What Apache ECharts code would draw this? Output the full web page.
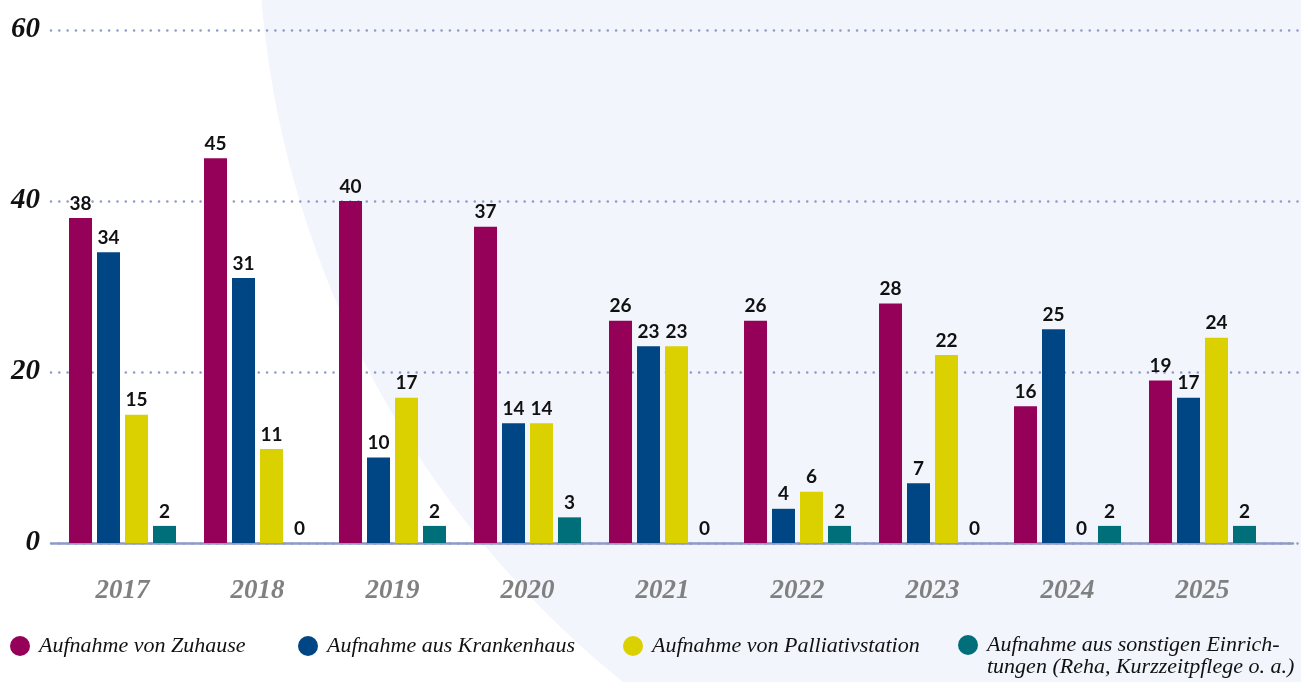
<!DOCTYPE html>
<html>
<head>
<meta charset="utf-8">
<script src="https://cdn.jsdelivr.net/npm/echarts@6/dist/echarts.min.js"></script>
<style>
html,body{margin:0;padding:0;background:#ffffff;}
#chart{width:1301px;height:682px;}
</style>
</head>
<body>
<div id="chart"></div>
<script>
const categories = ['2017','2018','2019','2020','2021','2022','2023','2024','2025'];
const seriesNames = [
  'Aufnahme von Zuhause',
  'Aufnahme aus Krankenhaus',
  'Aufnahme von Palliativstation',
  'Aufnahme aus sonstigen Einrichtungen (Reha, Kurzzeitpflege o. a.)'
];
const zuhause     = [38, 45, 40, 37, 26, 26, 28, 16, 19];
const krankenhaus = [34, 31, 10, 14, 23,  4,  7, 25, 17];
const palliativ   = [15, 11, 17, 14, 23,  6, 22,  0, 24];
const sonstige    = [ 2,  0,  2,  3,  0,  2,  0,  2,  2];
const yTicks = [0, 20, 40, 60];
const colors = ['#950059', '#004684', '#dbd000', '#006f79'];

const yMin = yTicks[0], yMax = yTicks[yTicks.length - 1], yStep = yTicks[1] - yTicks[0];
const seriesData = [zuhause, krankenhaus, palliativ, sonstige];

const chart = echarts.init(document.getElementById('chart'), null, {renderer: 'canvas'});

const gridTop = 30, gridBottom = 139;
const legendFont = {fontFamily: 'Liberation Serif', fontStyle: 'italic', fontSize: 22, color: '#111111'};
const legendLefts = [5, 293, 618, 953];

const legends = seriesNames.map((n, i) => {
  const multi = i === 3;
  return {
    data: [n],
    left: legendLefts[i],
    top: multi ? 607 : 630,
    orient: 'horizontal',
    icon: 'circle',
    itemWidth: 20,
    itemHeight: 20,
    selectedMode: false,
    formatter: multi ? () => '\nAufnahme aus sonstigen Einrich-\ntungen (Reha, Kurzzeitpflege o. a.)' : undefined,
    textStyle: Object.assign({}, legendFont, {
      lineHeight: 22,
      padding: [0, 0, 0, 4]
    })
  };
});

const option = {
  animation: false,
  backgroundColor: '#ffffff',
  color: colors,
  graphic: [{
    type: 'circle',
    z: -10,
    silent: true,
    shape: {cx: 1240, cy: -82, r: 982},
    style: {fill: '#f2f5fb'}
  }],
  legend: legends,
  grid: [
    {left: 55, right: 31, top: gridTop, bottom: gridBottom},
    {left: 51, right: 0, top: gridTop, bottom: gridBottom},
    {left: 52, right: 8, top: gridTop, bottom: gridBottom}
  ],
  xAxis: [
    {
      gridIndex: 0, type: 'category', data: categories,
      axisLine: {show: false}, axisTick: {show: false},
      axisLabel: {
        margin: 35, color: '#808080', fontFamily: 'Liberation Serif',
        fontStyle: 'italic', fontWeight: 'bold', fontSize: 27
      }
    },
    {gridIndex: 1, type: 'category', data: categories, show: false},
    {
      gridIndex: 2, type: 'category', data: categories,
      axisLine: {show: true, lineStyle: {color: '#8e9bc8', width: 2.5}},
      axisTick: {show: false}, axisLabel: {show: false}
    }
  ],
  yAxis: [
    {gridIndex: 0, type: 'value', min: yMin, max: yMax, interval: yStep, show: false},
    {
      gridIndex: 1, type: 'value', min: yMin, max: yMax, interval: yStep,
      axisLine: {show: false}, axisTick: {show: false},
      axisLabel: {
        margin: 11, color: '#111111', fontFamily: 'Liberation Serif',
        fontStyle: 'italic', fontWeight: 'bold', fontSize: 29
      },
      splitLine: {
        show: true,
        lineStyle: {color: '#8e9bc8', width: 2.6, type: [0.01, 8.3], cap: 'round'}
      }
    },
    {gridIndex: 2, type: 'value', min: yMin, max: yMax, interval: yStep, show: false}
  ],
  series: seriesNames.map((n, i) => ({
    name: n,
    type: 'bar',
    xAxisIndex: 0,
    yAxisIndex: 0,
    data: seriesData[i],
    barWidth: 23,
    barGap: '21.7%',
    itemStyle: {color: colors[i]},
    label: {
      show: true,
      position: 'top',
      distance: 5,
      color: '#111111',
      fontFamily: 'Lato',
      fontWeight: 'bold',
      fontSize: 19
    }
  }))
};
chart.setOption(option);
</script>
</body>
</html>
